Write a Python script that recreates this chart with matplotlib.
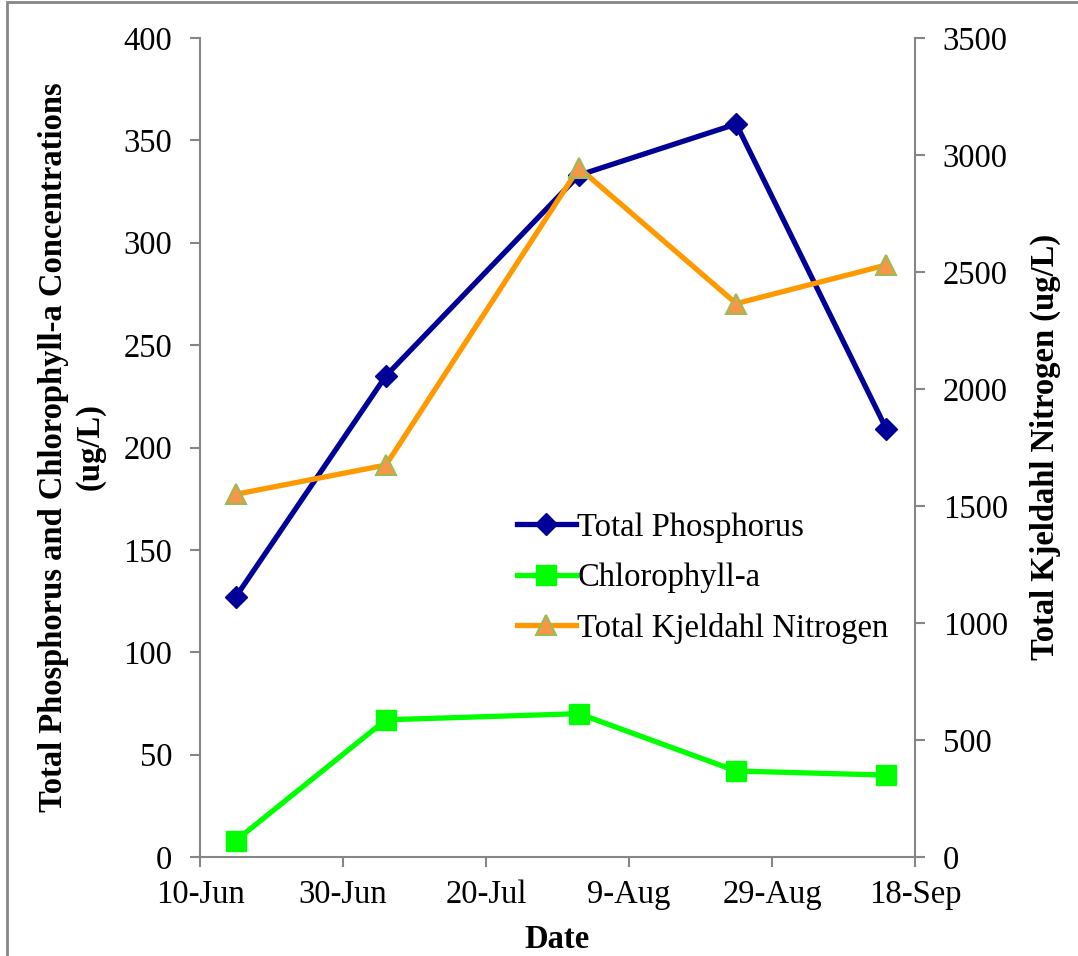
import matplotlib
matplotlib.use("Agg")
import matplotlib.pyplot as plt
from matplotlib.patches import Rectangle
import datetime as dt

# ---- data ----
sample_dates = ["2012-06-15", "2012-07-06", "2012-08-02", "2012-08-24", "2012-09-14"]
total_phosphorus = [127, 235, 333, 358, 209]
chlorophyll_a = [8, 67, 70, 42, 40]
tkn = [1550, 1675, 2945, 2365, 2530]
x_tick_dates = ["2012-06-10", "2012-06-30", "2012-07-20", "2012-08-09", "2012-08-29", "2012-09-18"]
x_tick_labels = ["10-Jun", "30-Jun", "20-Jul", "9-Aug", "29-Aug", "18-Sep"]
left_ticks = [0, 50, 100, 150, 200, 250, 300, 350, 400]
right_ticks = [0, 500, 1000, 1500, 2000, 2500, 3000, 3500]
series_names = ["Total Phosphorus", "Chlorophyll-a", "Total Kjeldahl Nitrogen"]

dates = [dt.datetime.strptime(d, "%Y-%m-%d") for d in sample_dates]
tick_dates = [dt.datetime.strptime(d, "%Y-%m-%d") for d in x_tick_dates]

plt.rcParams['font.family'] = ['Liberation Serif', 'DejaVu Serif']
FS = 23.5
GRAY = '#868686'

W, H = 1078, 956
fig = plt.figure(figsize=(W / 100, H / 100), dpi=100)
ax = fig.add_axes([200 / W, 1 - 857 / H, 715 / W, 819 / H])
ax2 = ax.twinx()

l1, = ax.plot(dates, total_phosphorus, color='#000099', lw=3.8, marker='D',
              markersize=11, markerfacecolor='#000099', markeredgecolor='#000099',
              label=series_names[0], zorder=3)
l2, = ax.plot(dates, chlorophyll_a, color='#00FF00', lw=3.8, marker='s',
              markersize=14, markerfacecolor='#00FF00', markeredgecolor='#00FF00',
              label=series_names[1], zorder=3)
l3, = ax2.plot(dates, tkn, color='#FF9900', lw=3.8, marker='^',
               markersize=15, markerfacecolor='#F79646', markeredgecolor='#9BBB59',
               markeredgewidth=1.5, label=series_names[2], zorder=3)

ax.set_xlim(tick_dates[0], tick_dates[-1])
ax.set_xticks(tick_dates)
ax.set_xticklabels(x_tick_labels)
ax.set_ylim(0, 400)
ax.set_yticks(left_ticks)
ax2.set_ylim(0, 3500)
ax2.set_yticks(right_ticks)

for a in (ax, ax2):
    for s in a.spines.values():
        s.set_color(GRAY)
        s.set_linewidth(1.5)
    a.spines['top'].set_visible(False)
    a.tick_params(axis='both', direction='out', length=7.5, width=1.5, color=GRAY,
                  labelsize=FS, pad=12.5)
ax.spines['right'].set_visible(False)
ax2.spines['left'].set_visible(False)
ax2.spines['bottom'].set_visible(False)

ax.tick_params(axis='x', pad=9)

fig.text(557 / W, 1 - 940 / H, "Date", ha='center', va='center',
         fontsize=FS, fontweight='bold')
fig.text(72 / W, 1 - 447 / H,
         "Total Phosphorus and Chlorophyll-a Concentrations\n(ug/L)",
         ha='center', va='center', rotation=90, fontsize=FS, fontweight='bold',
         multialignment='center', linespacing=1.25)
fig.text(1045 / W, 1 - 447 / H, "Total Kjeldahl Nitrogen (ug/L)",
         ha='center', va='center', rotation=90, fontsize=FS, fontweight='bold')

leg = ax2.legend(handles=[l1, l2, l3], loc='center left',
                 bbox_to_anchor=(517 / W, 1 - 578 / H), bbox_transform=fig.transFigure,
                 frameon=False, fontsize=FS, handlelength=1.8, handletextpad=0.05,
                 labelspacing=0.6, borderpad=0, borderaxespad=0)

fig.add_artist(Rectangle((7 / W, -0.05), 1.2, 1 - 2 / H + 0.05, transform=fig.transFigure,
                         fill=False, edgecolor=GRAY, linewidth=2))

fig.savefig("out.png", dpi=100)
